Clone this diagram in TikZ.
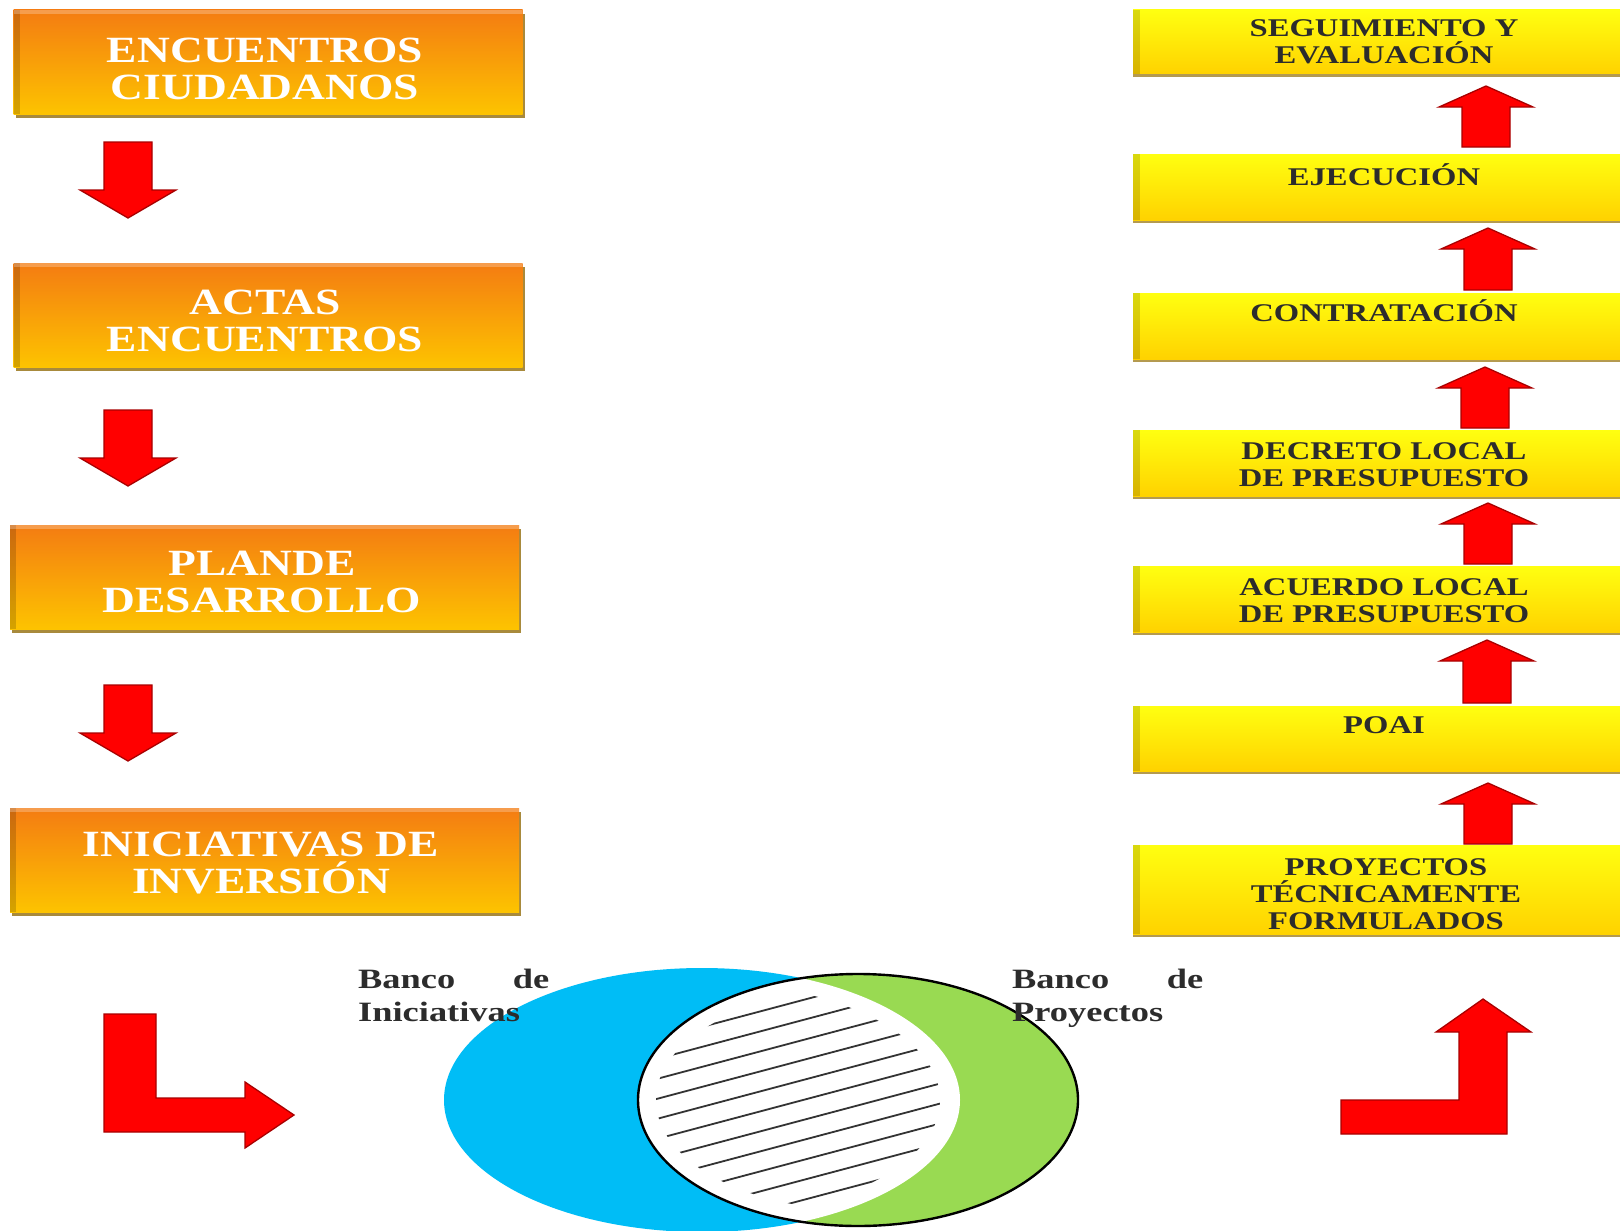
\documentclass[tikz,border=0pt]{standalone}
\usepackage{fontspec}
\usetikzlibrary{shadows}
\newfontfamily\orf[FakeStretch=1.23]{Liberation Serif}
\newfontfamily\yef[FakeStretch=1.28]{Liberation Serif}
\newfontfamily\lbf[FakeStretch=1.30]{Liberation Serif}
\definecolor{oTop}{HTML}{F47C12}
\definecolor{oBot}{HTML}{FDC300}
\definecolor{oShad}{HTML}{A88A3C}
\definecolor{yTop}{HTML}{FFFF10}
\definecolor{yBot}{HTML}{FFD200}
\definecolor{yShad}{HTML}{B49A50}
\definecolor{arrRed}{HTML}{FF0000}
\definecolor{arrEdge}{HTML}{A80000}
\definecolor{vBlue}{HTML}{00BDF6}
\definecolor{vGreen}{HTML}{99DA52}
\definecolor{yText}{HTML}{2C2C2C}
\begin{document}
\begin{tikzpicture}[x=1pt,y=-1pt,
  obox/.style={minimum width=509pt, minimum height=104pt, inner sep=0pt,
    top color=oTop, bottom color=oBot,
    general shadow={fill=oShad, shadow xshift=2pt, shadow yshift=-4pt},
    path picture={
      \fill[black,opacity=0.16] (path picture bounding box.north west) rectangle ([xshift=6pt]path picture bounding box.south west);
      \fill[white,opacity=0.25] (path picture bounding box.north west) rectangle ([yshift=-4pt]path picture bounding box.north east);}},
  ybox/.style={minimum width=492pt, inner sep=0pt,
    top color=yTop, bottom color=yBot,
    general shadow={fill=yShad, shadow xshift=0pt, shadow yshift=-3pt},
    path picture={
      \fill[black,opacity=0.15] (path picture bounding box.north west) rectangle ([xshift=7pt]path picture bounding box.south west);}},
  otext/.style={font=\orf\bfseries\fontsize{37}{37}\selectfont, text=white, align=center, inner sep=0pt},
  ytext/.style={font=\yef\bfseries\fontsize{25.5}{27}\selectfont, text=yText, align=center, inner sep=0pt},
  ysingle/.style={ytext, text height=17pt, text depth=0pt},
  lbltext/.style={font=\lbf\bfseries\fontsize{28}{33}\selectfont, text=yText, align=left, text width=191pt, inner sep=0pt, anchor=north west},
  blockarrow/.style={fill=arrRed, draw=arrEdge, line width=1.3pt, line join=miter},
  hatch/.style={draw=black!80, line width=1.8pt}
]
\useasboundingbox (0,0) rectangle (1620,1231);
\fill[white] (0,0) rectangle (1620,1231);

% ---------- orange boxes ----------
\node[obox] (o1) at (268,62) {};
\node[obox] (o2) at (268,315) {};
\node[obox] (o3) at (264.5,577) {};
\node[obox] (o4) at (264.5,860) {};
\node[otext] (to1) at (265,68.5) {ENCUENTROS\\CIUDADANOS};
\node[otext] (to2) at (265,320.5) {ACTAS\\ENCUENTROS};
\node[otext] (to3) at (262,581.5) {PLANDE\\DESARROLLO};
\node[otext] (to4) at (261,863) {INICIATIVAS DE\\INVERSIÓN};

% ---------- down arrows ----------
\foreach \T in {142,410,685}{
  \draw[blockarrow] (104,\T) -- (152,\T) -- (152,\T+48) -- (176,\T+48) -- (128,\T+76) -- (80,\T+48) -- (104,\T+48) -- cycle;
}

% ---------- yellow boxes ----------
\node[ybox, minimum height=64pt] (y1) at (1379,42) {};
\node[ybox, minimum height=66pt] (y2) at (1379,187) {};
\node[ybox, minimum height=66pt] (y3) at (1379,326) {};
\node[ybox, minimum height=66pt] (y4) at (1379,463) {};
\node[ybox, minimum height=66pt] (y5) at (1379,599) {};
\node[ybox, minimum height=65pt] (y6) at (1379,738.5) {};
\node[ybox, minimum height=89pt] (y7) at (1379,889.5) {};
\node[ytext] (ty1) at (1384,41.5) {SEGUIMIENTO Y\\EVALUACIÓN};
\node[ysingle] (ty2) at (1384,177) {EJECUCIÓN};
\node[ysingle] (ty3) at (1384,313) {CONTRATACIÓN};
\node[ytext] (ty4) at (1384,464.5) {DECRETO LOCAL\\DE PRESUPUESTO};
\node[ytext] (ty5) at (1384,601) {ACUERDO LOCAL\\DE PRESUPUESTO};
\node[ysingle] (ty6) at (1384,725) {POAI};
\node[ytext] (ty7) at (1386,894.5) {PROYECTOS\\TÉCNICAMENTE\\FORMULADOS};

% ---------- up arrows ----------
\foreach \T/\B/\c in {86/147/1486, 228/290/1488, 367/428/1485, 503/564/1488, 640/703/1487, 783/844/1488}{
  \draw[blockarrow] (\c-24,\B) -- (\c-24,\T+21) -- (\c-47,\T+21) -- (\c,\T) -- (\c+47,\T+21) -- (\c+24,\T+21) -- (\c+24,\B) -- cycle;
}

% ---------- bent arrows ----------
\draw[blockarrow] (104,1014) -- (156,1014) -- (156,1098) -- (245,1098) -- (245,1082) -- (294,1115) -- (245,1148) -- (245,1132) -- (104,1132) -- cycle;
\draw[blockarrow] (1341,1100) -- (1459,1100) -- (1459,1032) -- (1436,1032) -- (1483,999) -- (1531,1032) -- (1507,1032) -- (1507,1134) -- (1341,1134) -- cycle;

% ---------- Venn ----------
\fill[vBlue] (702,1100) ellipse [x radius=258pt, y radius=132pt];
\fill[vGreen] (858,1100) ellipse [x radius=220pt, y radius=126pt];
\begin{scope}
  \clip (858,1100) ellipse [x radius=220pt, y radius=126pt];
  \fill[white] (702,1100) ellipse [x radius=258pt, y radius=132pt];
  \begin{scope}
    \clip (858,1100) ellipse [x radius=202pt, y radius=110pt];
    \clip (702,1100) ellipse [x radius=238pt, y radius=118pt];
    \foreach \k in {-6,...,12}{
      \draw[hatch] (600,{1094+20*\k}) -- (1000,{1094+20*\k-106.4});
    }
  \end{scope}
\end{scope}
\draw[black, line width=2.4pt] (858,1100) ellipse [x radius=220pt, y radius=126pt];

\node[lbltext] (bi) at (358,969) {Banco\hfill de\\Iniciativas};
\node[lbltext] (bp) at (1012,969) {Banco\hfill de\\Proyectos};
\end{tikzpicture}
\end{document}
